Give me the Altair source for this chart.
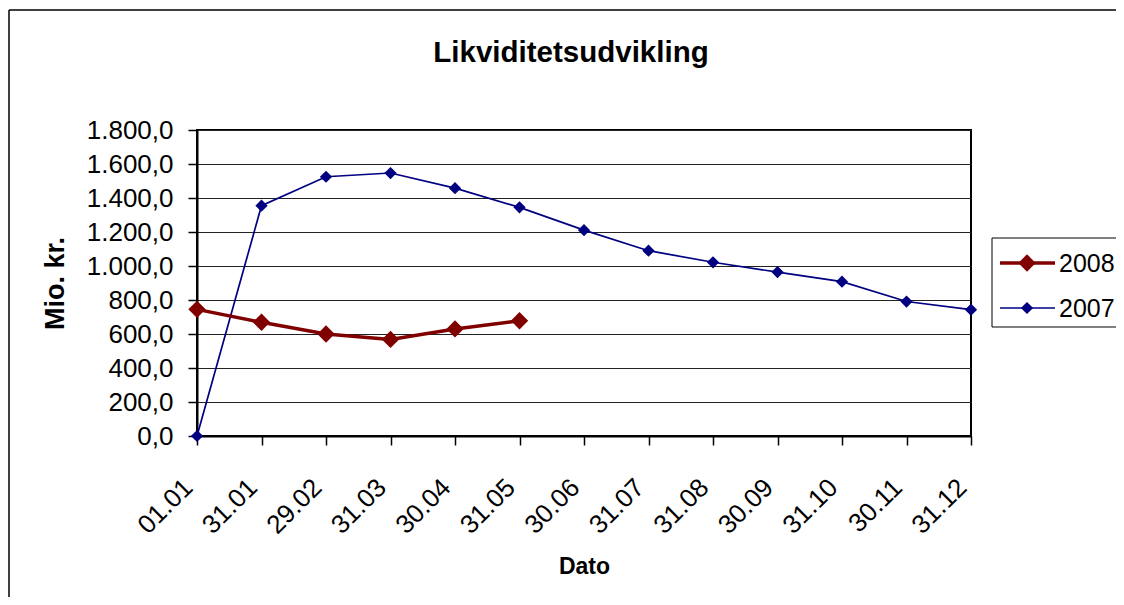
import altair as alt
import pandas as pd

dates = ["01.01", "31.01", "29.02", "31.03", "30.04", "31.05", "30.06",
         "31.07", "31.08", "30.09", "31.10", "30.11", "31.12"]
v2007 = [0, 1355, 1525, 1547, 1458, 1345, 1211, 1090, 1022, 964, 908, 791, 743]
v2008 = [745, 669, 600, 568, 630, 678]
series = ["2008", "2007"]
colors = ["#800000", "#000080"]
title_text = "Likviditetsudvikling"

FONT = "Liberation Sans"
W, H = 774, 306

df07 = pd.DataFrame({"Dato": dates, "v": v2007, "s": "2007"})
df08 = pd.DataFrame({"Dato": dates[:len(v2008)], "v": v2008, "s": "2008"})

xenc = alt.X("Dato:N", sort=dates, scale=alt.Scale(domain=dates, type="point", padding=0),
             axis=alt.Axis(title="Dato", labelAngle=-45, labelAlign="right", labelBaseline="middle",
                           labelPadding=38, labelOffset=-9, tickSize=9, grid=False,
                           titleFontSize=23, titleX=387, titleY=137, titleBaseline="alphabetic"))
yenc = alt.Y("v:Q", scale=alt.Scale(domain=[0, 1800], nice=False),
             axis=alt.Axis(title="Mio. kr.", values=list(range(0, 1801, 200)),
                           labelExpr="replace(replace(replace(format(datum.value, ',.1f'), ',', '#'), '.', ','), '#', '.')",
                           tickSize=9, labelPadding=15, titleFontSize=27,
                           titleAngle=-90, titleX=-134, titleY=153, titleAlign="center",
                           titleBaseline="alphabetic"))

line07 = alt.Chart(df07).mark_line(color=colors[1], strokeWidth=1.7).encode(x=xenc, y=yenc)
pts07 = alt.Chart(df07).mark_point(shape="diamond", filled=True, size=150, opacity=1,
                                    color=colors[1]).encode(x=xenc, y=yenc)
line08 = alt.Chart(df08).mark_line(color=colors[0], strokeWidth=3.5).encode(x=xenc, y=yenc)
pts08 = alt.Chart(df08).mark_point(shape="diamond", filled=True, size=300, opacity=1,
                                    color=colors[0]).encode(x=xenc, y=yenc)

# chart title
title = alt.Chart(pd.DataFrame({"t": [title_text]})).mark_text(
    align="center", baseline="alphabetic", fontSize=29.5, fontWeight="bold", font=FONT, color="black"
).encode(x=alt.value(374), y=alt.value(-68), text="t:N")

# legend (manual)
leg_box = alt.Chart(pd.DataFrame({"a": [0]})).mark_rect(fill="white", stroke="black", strokeWidth=1).encode(
    x=alt.value(795), x2=alt.value(960), y=alt.value(108), y2=alt.value(197))
leg_layers = [leg_box]
for i, (name, col) in enumerate(zip(series, colors)):
    yy = 133 + 45 * i
    d = pd.DataFrame({"s": [name]})
    leg_layers.append(alt.Chart(d).mark_rule(color=col, strokeWidth=3.5 if i == 0 else 1.7).encode(
        x=alt.value(803), x2=alt.value(858), y=alt.value(yy)))
    leg_layers.append(alt.Chart(d).mark_point(shape="diamond", filled=True, opacity=1, color=col,
                                              size=300 if i == 0 else 150).encode(
        x=alt.value(830), y=alt.value(yy)))
    leg_layers.append(alt.Chart(d).mark_text(align="left", baseline="middle", fontSize=25, font=FONT,
                                             color="black").encode(
        x=alt.value(862), y=alt.value(yy + 1), text="s:N"))

# outer chart frame
frame_l = alt.Chart(pd.DataFrame({"a": [0]})).mark_rule(color="black", strokeWidth=1.5).encode(
    x=alt.value(-188), y=alt.value(-120), y2=alt.value(480))
frame_t = alt.Chart(pd.DataFrame({"a": [0]})).mark_rule(color="black", strokeWidth=1.5).encode(
    x=alt.value(-188), x2=alt.value(960), y=alt.value(-120))

chart = alt.layer(line07, pts07, line08, pts08, title, *leg_layers, frame_l, frame_t).properties(
    width=W, height=H,
    autosize="none",
    padding={"left": 189, "top": 122, "right": 145, "bottom": 161},
).configure(font=FONT).configure_axis(
    labelFont=FONT, labelFontSize=26, labelColor="black", titleFont=FONT, titleColor="black",
    titleFontWeight="bold", domainColor="black", domainWidth=2, tickColor="black", tickWidth=1.5,
    gridColor="#222222", gridWidth=1, gridOpacity=1,
).configure_view(stroke="black", strokeWidth=2).configure_axisX(grid=False)

chart.save("out.html", embed_options={"renderer": "svg", "actions": False})
